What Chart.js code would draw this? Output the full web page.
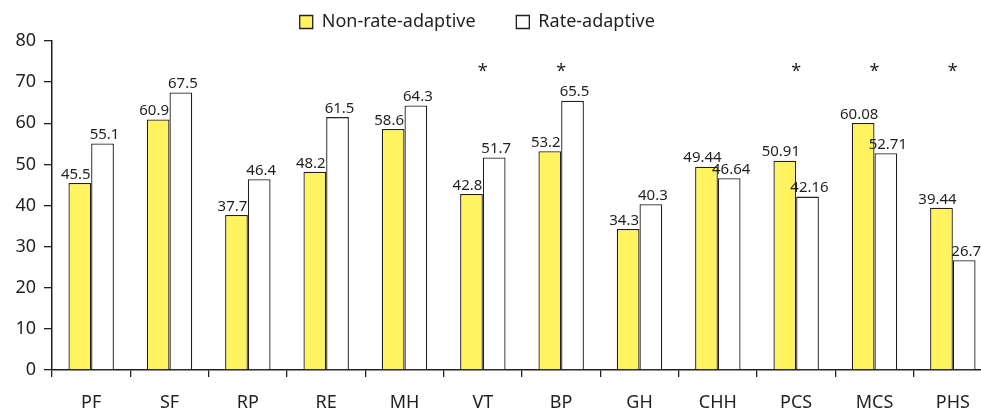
<!DOCTYPE html>
<html>
<head>
<meta charset="utf-8">
<script src="https://cdn.jsdelivr.net/npm/chart.js@4/dist/chart.umd.min.js"></script>
<style>
  html, body { margin: 0; padding: 0; background: #fff; overflow: hidden; }
  #outer { width: 981px; height: 412px; overflow: hidden; position: relative; }
  #wrap { width: 992px; height: 412px; position: relative; }
</style>
</head>
<body>
<div id="outer"><div id="wrap"><canvas id="c"></canvas></div></div>
<script>
const categories = ['PF', 'SF', 'RP', 'RE', 'MH', 'VT', 'BP', 'GH', 'CHH', 'PCS', 'MCS', 'PHS'];
const nonRateAdaptive = [45.5, 60.9, 37.7, 48.2, 58.6, 42.8, 53.2, 34.3, 49.44, 50.91, 60.08, 39.44];
const rateAdaptive = [55.1, 67.5, 46.4, 61.5, 64.3, 51.7, 65.5, 40.3, 46.64, 42.16, 52.71, 26.7];
const significant = ['VT', 'BP', 'PCS', 'MCS', 'PHS'];
const yTicks = [0, 10, 20, 30, 40, 50, 60, 70, 80];
const asteriskLevel = 74;

const FONT = 'Noto Sans, sans-serif';

const labelPlugin = {
  id: 'barLabels',
  afterDatasetsDraw(chart) {
    const ctx = chart.ctx;
    ctx.save();
    ctx.font = '15px ' + FONT;
    ctx.fillStyle = '#231f20';
    ctx.textAlign = 'center';
    ctx.textBaseline = 'bottom';
    chart.data.datasets.forEach((ds, di) => {
      const meta = chart.getDatasetMeta(di);
      const shift = di === 0 ? -4 : 2;
      meta.data.forEach((bar, i) => {
        ctx.fillText(String(ds.data[i]), bar.x + shift, bar.y - 1);
      });
    });
    // significance asterisks
    const xs = chart.scales.x, ys = chart.scales.y;
    ctx.font = '18px ' + FONT;
    ctx.textBaseline = 'middle';
    significant.forEach(cat => {
      const idx = categories.indexOf(cat);
      ctx.fillText('*', xs.getPixelForValue(idx), ys.getPixelForValue(asteriskLevel) + 6);
    });
    ctx.restore();
  }
};

new Chart(document.getElementById('c'), {
  type: 'bar',
  data: {
    labels: categories,
    datasets: [
      {
        label: 'Non-rate-adaptive',
        data: nonRateAdaptive,
        backgroundColor: '#fff35f',
        borderColor: '#231f20',
        borderWidth: 1.3,
        categoryPercentage: 0.58,
        barPercentage: 1.0
      },
      {
        label: 'Rate-adaptive',
        data: rateAdaptive,
        backgroundColor: '#ffffff',
        borderColor: '#231f20',
        borderWidth: 1.3,
        categoryPercentage: 0.58,
        barPercentage: 1.0
      }
    ]
  },
  options: {
    responsive: true,
    maintainAspectRatio: false,
    animation: false,
    devicePixelRatio: 1,
    layout: { padding: { left: 0, right: 0, top: 5, bottom: 0 } },
    plugins: {
      tooltip: { enabled: false },
      legend: {
        position: 'top',
        align: 'center',
        labels: {
          font: { family: FONT, size: 18 },
          color: '#231f20',
          boxWidth: 13,
          boxHeight: 13,
          padding: 8,
          generateLabels(chart) {
            return chart.data.datasets.map((ds, i) => ({
              text: i === 0 ? ds.label + '       ' : ds.label + '        ',
              fillStyle: ds.backgroundColor,
              strokeStyle: '#231f20',
              lineWidth: 1.3,
              datasetIndex: i,
              fontColor: '#231f20'
            }));
          }
        }
      }
    },
    scales: {
      x: {
        offset: true,
        afterFit(scale) { scale.height = 42; },
        grid: {
          display: true,
          drawOnChartArea: false,
          drawTicks: true,
          tickLength: 7,
          color: '#231f20',
          lineWidth: 1.3,
          offset: true
        },
        border: { display: true, color: '#231f20', width: 1.5 },
        ticks: {
          font: { family: FONT, size: 18 },
          color: '#231f20',
          padding: 15,
          maxRotation: 0
        }
      },
      y: {
        min: 0,
        max: 80,
        afterBuildTicks(scale) { scale.ticks = yTicks.map(v => ({ value: v })); },
        afterFit(scale) { scale.width = 52; },
        grid: {
          display: true,
          drawOnChartArea: false,
          drawTicks: true,
          tickLength: 8,
          color: '#231f20',
          lineWidth: 1.3
        },
        border: { display: true, color: '#231f20', width: 1.5 },
        ticks: {
          font: { family: FONT, size: 18 },
          color: '#231f20',
          padding: 8
        }
      }
    }
  },
  plugins: [labelPlugin]
});
</script>
</body>
</html>
